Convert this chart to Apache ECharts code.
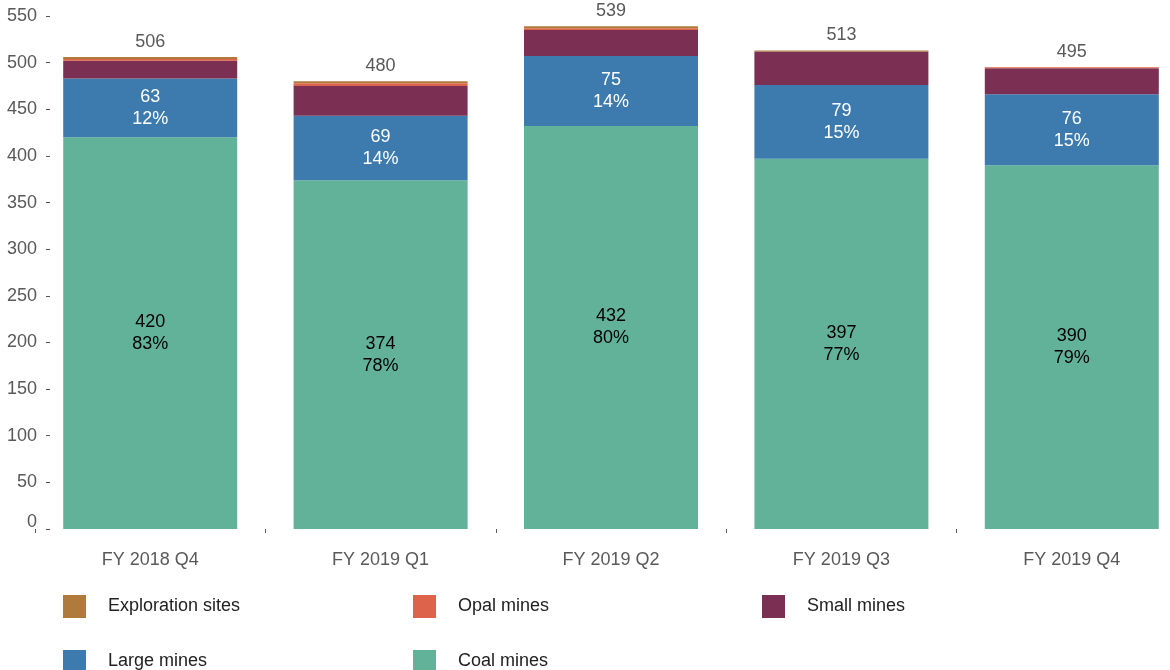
<!DOCTYPE html>
<html>
<head>
<meta charset="utf-8">
<script src="https://cdn.jsdelivr.net/npm/echarts@6/dist/echarts.min.js"></script>
<style>
  html, body { margin: 0; padding: 0; background: #fff; }
  #chart { width: 1170px; height: 670px; }
</style>
</head>
<body>
<div id="chart"></div>
<script>
const categories = ['FY 2018 Q4', 'FY 2019 Q1', 'FY 2019 Q2', 'FY 2019 Q3', 'FY 2019 Q4']
const coalMines = [420, 374, 432, 397, 390]
const largeMines = [63, 69, 75, 79, 76]
const smallMines = [19, 32, 28, 36, 28]
const opalMines = [2, 3, 2, 0, 1]
const explorationSites = [2, 2, 2, 1, 0]
const totals = [506, 480, 539, 513, 495]
const coalPct = ['83%', '78%', '80%', '77%', '79%']
const largePct = ['12%', '14%', '14%', '15%', '15%']

const font = 'Liberation Sans, Arial, sans-serif'
const gray = '#595959'

function legendItem(name, left, top){
  return {
    data: [name],
    left: left,
    top: top,
    itemWidth: 23,
    itemHeight: 23,
    icon: 'rect',
    selectedMode: false,
    textStyle: {fontFamily: font, fontSize: 18, color: '#222', padding: [0, 0, 0, 17]}
  }
}

const options = {
  animation: false,
  grid: {left: 35, top: 16, width: 1152, bottom: 141, containLabel: false, outerBoundsMode: 'none'},
  legend: [
    legendItem('Exploration sites', 58, 590),
    legendItem('Opal mines', 408, 590),
    legendItem('Small mines', 757, 590),
    legendItem('Large mines', 58, 645),
    legendItem('Coal mines', 408, 645)
  ],
  xAxis: {
    type: 'category',
    data: categories,
    offset: 6,
    axisLine: {show: false},
    axisTick: {show: true, length: 4, lineStyle: {color: gray}},
    axisLabel: {fontFamily: font, fontSize: 18, color: gray, margin: 16}
  },
  yAxis: {
    type: 'value',
    min: 0,
    max: 550,
    interval: 50,
    offset: -15,
    axisLine: {show: false},
    axisTick: {show: true, length: 4, lineStyle: {color: gray}},
    splitLine: {show: false},
    axisLabel: {
      fontFamily: font, fontSize: 18, color: gray, margin: 13,
      formatter: v => v === 0 ? '{z|0}' : String(v),
      rich: {z: {fontFamily: font, fontSize: 18, color: gray, padding: [0, 0, 14, 0]}}
    }
  },
  series: [
    {
      name: 'Coal mines', type: 'bar', stack: 'all', barWidth: 174,
      data: coalMines,
      itemStyle: {color: '#62b29a'},
      label: {
        show: true, position: 'inside', color: '#000', fontFamily: font, fontSize: 18, lineHeight: 22,
        formatter: p => p.value + '\n' + coalPct[p.dataIndex]
      }
    },
    {
      name: 'Large mines', type: 'bar', stack: 'all',
      data: largeMines,
      itemStyle: {color: '#3d7baf'},
      label: {
        show: true, position: 'inside', color: '#fff', fontFamily: font, fontSize: 18, lineHeight: 22,
        formatter: p => p.value + '\n' + largePct[p.dataIndex]
      }
    },
    {
      name: 'Small mines', type: 'bar', stack: 'all',
      data: smallMines,
      itemStyle: {color: '#7b2f52'}
    },
    {
      name: 'Opal mines', type: 'bar', stack: 'all',
      data: opalMines,
      itemStyle: {color: '#dd644a'}
    },
    {
      name: 'Exploration sites', type: 'bar', stack: 'all',
      data: explorationSites,
      itemStyle: {color: '#b07b3a'},
      label: {
        show: true, position: 'top', distance: 6, color: gray, fontFamily: font, fontSize: 18,
        formatter: p => String(totals[p.dataIndex])
      }
    }
  ]
}

const chart = echarts.init(document.getElementById('chart'))
chart.setOption(options)
</script>
</body>
</html>
